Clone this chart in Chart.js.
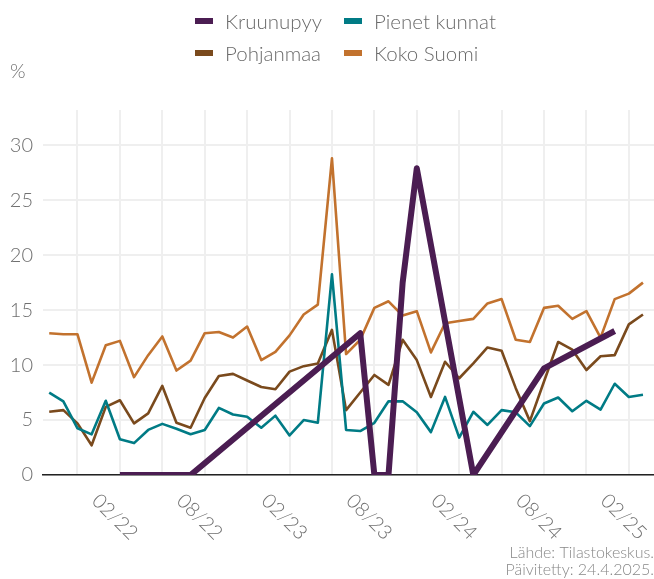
<!DOCTYPE html>
<html lang="fi">
<head>
<meta charset="utf-8">
<script src="https://cdn.jsdelivr.net/npm/chart.js@4/dist/chart.umd.min.js"></script>
<style>
  html, body { margin: 0; padding: 0; background: #fff; }
  #wrap { position: relative; width: 654px; height: 579px; }
  #chart { position: absolute; left: 0; top: 0; }
  #legend {
    position: absolute; left: 195px; top: 5px;
    display: grid; grid-template-columns: 149px auto;
    font-family: Lato, sans-serif; font-size: 20.5px; font-weight: 300; color: #6a6a6a;
  }
  #legend div { height: 32px; display: flex; align-items: center; white-space: nowrap; }
  #legend span { display: inline-block; width: 18px; height: 6px; margin-right: 12px; }
</style>
</head>
<body>
<div id="wrap">
  <canvas id="chart" width="654" height="579"></canvas>
  <div id="legend"></div>
</div>
<script>
// months on the x axis
const months = [
  '11/21', '12/21',
  '01/22', '02/22', '03/22', '04/22', '05/22', '06/22', '07/22', '08/22', '09/22', '10/22', '11/22', '12/22',
  '01/23', '02/23', '03/23', '04/23', '05/23', '06/23', '07/23', '08/23', '09/23', '10/23', '11/23', '12/23',
  '01/24', '02/24', '03/24', '04/24', '05/24', '06/24', '07/24', '08/24', '09/24', '10/24', '11/24', '12/24',
  '01/25', '02/25', '03/25', '04/25', '05/25'
];
const tickMonths = ['02/22', '08/22', '02/23', '08/23', '02/24', '08/24', '02/25'];

// series (%)
const kruunupyy = [
  null, null, null, null, null, 0, null, null, null, null, 0, null, null, null,
  null, null, null, null, null, null, null, null, 12.9, 0, 0, 17.5,
  27.9, null, null, null, 0, null, null, null, null, 9.7, null, null,
  null, null, 13.1, null, null
];
const pienetKunnat = [
  7.5, 6.7, 4.25, 3.7, 6.75, 3.25, 2.9, 4.1, 4.65, 4.2, 3.7, 4.1, 6.1, 5.5,
  5.3, 4.3, 5.4, 3.6, 5.0, 4.75, 18.25, 4.1, 4.0, 4.75, 6.7, 6.7,
  5.7, 3.9, 7.1, 3.4, 5.75, 4.55, 5.9, 5.7, 4.45, 6.5, 7.05, 5.8,
  6.75, 5.95, 8.3, 7.1, 7.3
];
const pohjanmaa = [
  5.75, 5.9, 4.7, 2.7, 6.2, 6.8, 4.7, 5.6, 8.1, 4.75, 4.3, 7.0, 9.0, 9.2,
  8.6, 8.0, 7.8, 9.4, 9.9, 10.15, 13.2, 5.9, 7.5, 9.1, 8.2, 12.3,
  10.45, 7.1, 10.3, 8.8, 10.15, 11.6, 11.3, 7.9, 4.9, 8.5, 12.1, 11.4,
  9.55, 10.8, 10.9, 13.7, 14.6
];
const kokoSuomi = [
  12.9, 12.8, 12.8, 8.4, 11.8, 12.2, 8.9, 10.9, 12.6, 9.5, 10.4, 12.9, 13.0, 12.5,
  13.5, 10.45, 11.2, 12.7, 14.6, 15.5, 28.8, 11.0, 12.3, 15.2, 15.8, 14.5,
  14.9, 11.15, 13.8, 14.0, 14.2, 15.6, 16.0, 12.3, 12.1, 15.2, 15.4, 14.2,
  14.9, 12.5, 16.0, 16.5, 17.5
];

const textGray = '#707070';
const gridGray = '#efefef';

// gridlines at quarter starts
const quarterIdx = months
  .map((m, i) => (['01', '04', '07', '10'].includes(m.slice(0, 2)) ? i : -1))
  .filter(i => i >= 0);

function toPoints(arr) {
  return arr.map((v, i) => ({ x: i, y: v }));
}

// rotated month labels under the axis
const xLabels = {
  id: 'xLabels',
  afterDraw(chart) {
    const { ctx, scales: { x } } = chart;
    ctx.save();
    ctx.font = '300 20px Lato';
    ctx.fillStyle = textGray;
    ctx.textAlign = 'left';
    ctx.textBaseline = 'alphabetic';
    tickMonths.forEach(m => {
      const px = x.getPixelForValue(months.indexOf(m));
      ctx.save();
      ctx.translate(px - 1, 502);
      ctx.rotate(Math.PI / 4);
      ctx.fillText(m, 0, 0);
      ctx.restore();
    });
    ctx.restore();
  }
};

Chart.defaults.font.family = 'Lato';

const chart = new Chart(document.getElementById('chart').getContext('2d'), {
  type: 'line',
  data: {
    datasets: [
      { label: 'Kruunupyy', data: toPoints(kruunupyy), borderColor: '#4b1d52', borderWidth: 6, spanGaps: true, clip: 0 },
      { label: 'Pienet kunnat', data: toPoints(pienetKunnat), borderColor: '#007b85', borderWidth: 2.6 },
      { label: 'Pohjanmaa', data: toPoints(pohjanmaa), borderColor: '#7a4a1d', borderWidth: 2.6 },
      { label: 'Koko Suomi', data: toPoints(kokoSuomi), borderColor: '#c2722e', borderWidth: 2.6 }
    ]
  },
  options: {
    responsive: false,
    animation: false,
    devicePixelRatio: 1,
    elements: {
      point: { radius: 0, hoverRadius: 0 },
      line: { tension: 0, borderJoinStyle: 'round', borderCapStyle: 'butt' }
    },
    layout: { padding: { top: 58, left: 10, right: 0, bottom: 0 } },
    scales: {
      x: {
        type: 'linear',
        min: -0.44,
        max: 42.78,
        afterBuildTicks: s => { s.ticks = quarterIdx.map(v => ({ value: v })); },
        afterFit: s => { s.height = 0; },
        ticks: { display: false },
        grid: { color: gridGray, lineWidth: 2, drawTicks: false },
        border: { display: true, color: '#222', width: 1.5 }
      },
      y: {
        min: 0,
        max: 33.2,
        afterFit: s => { s.width = 33; },
        ticks: { stepSize: 5, includeBounds: false, padding: 10, color: textGray, font: { size: 20, weight: 300 } },
        grid: { color: gridGray, lineWidth: 2, drawTicks: false },
        border: { display: false }
      }
    },
    plugins: {
      legend: { display: false },
      tooltip: { enabled: false },
      title: {
        display: true,
        text: '%',
        align: 'start',
        color: textGray,
        font: { size: 20, weight: 300, lineHeight: 1.2 },
        padding: { top: 2, bottom: 26 }
      },
      subtitle: {
        display: true,
        position: 'bottom',
        align: 'end',
        text: ['Lähde: Tilastokeskus.', 'Päivitetty: 24.4.2025.'],
        color: '#888',
        font: { size: 16, weight: 300, lineHeight: 1.0625 },
        padding: { top: 69.5, bottom: 0.5 }
      }
    }
  },
  plugins: [xLabels]
});

// html legend, two columns
const legendEl = document.getElementById('legend');
chart.data.datasets.forEach(ds => {
  const item = document.createElement('div');
  const sw = document.createElement('span');
  sw.style.background = ds.borderColor;
  item.appendChild(sw);
  item.appendChild(document.createTextNode(ds.label));
  legendEl.appendChild(item);
});
</script>
</body>
</html>
